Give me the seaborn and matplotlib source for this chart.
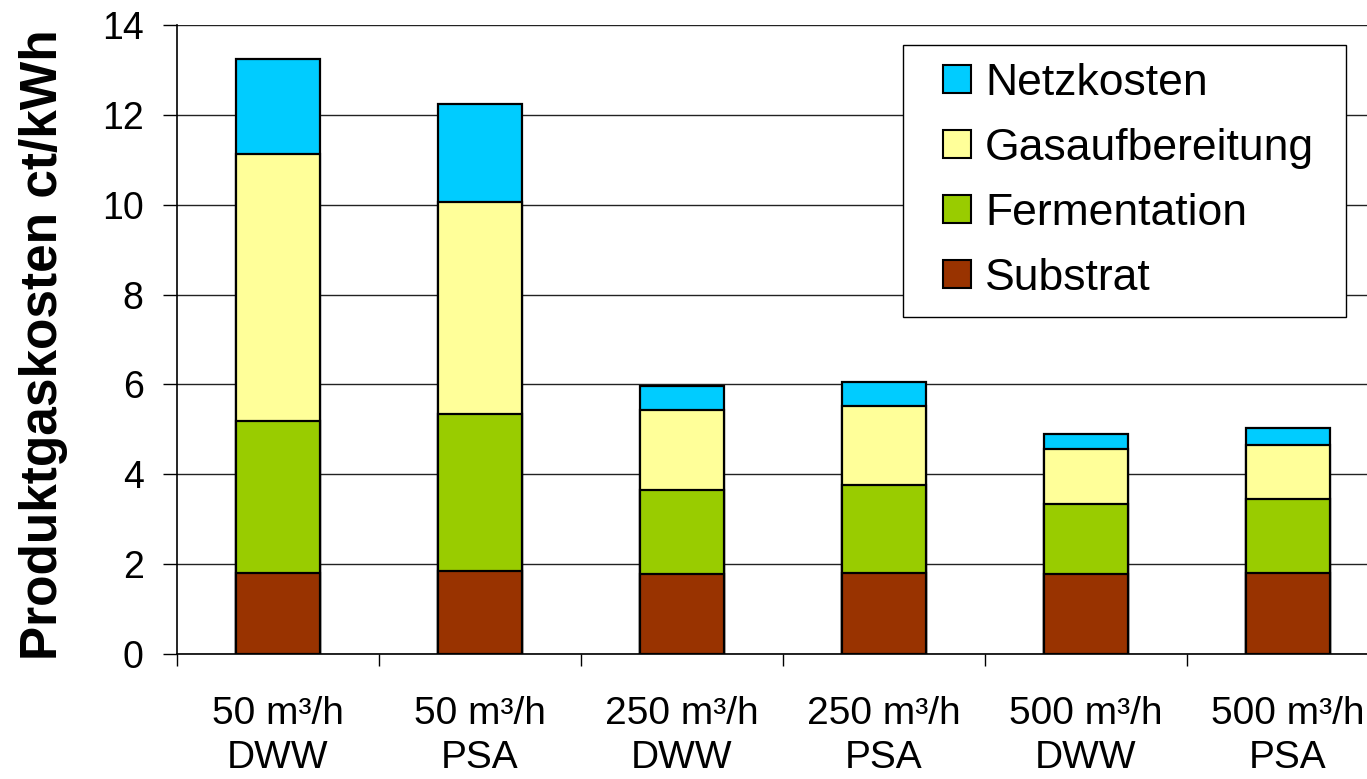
import matplotlib
matplotlib.use("Agg")
import matplotlib.pyplot as plt
from matplotlib.lines import Line2D
import numpy as np
import pandas as pd
import seaborn as sns

# Production gas cost breakdown per plant size and upgrading process (ct/kWh)
categories = ["50 m³/h\nDWW", "50 m³/h\nPSA", "250 m³/h\nDWW",
              "250 m³/h\nPSA", "500 m³/h\nDWW", "500 m³/h\nPSA"]
substrat = [1.81, 1.85, 1.77, 1.80, 1.77, 1.80]
fermentation = [3.38, 3.48, 1.89, 1.95, 1.57, 1.64]
gasaufbereitung = [5.93, 4.74, 1.76, 1.76, 1.22, 1.21]
netzkosten = [2.12, 2.18, 0.55, 0.54, 0.33, 0.37]

series_names = ["Substrat", "Fermentation", "Gasaufbereitung", "Netzkosten"]
series_colors = ["#993300", "#99CC00", "#FFFF99", "#00CCFF"]

df = pd.DataFrame({
    "Kategorie": categories,
    "Substrat": substrat,
    "Fermentation": fermentation,
    "Gasaufbereitung": gasaufbereitung,
    "Netzkosten": netzkosten,
})

sns.set_theme(style="white")
plt.rcParams["font.family"] = ["Liberation Sans", "DejaVu Sans"]
plt.rcParams["text.color"] = "black"
plt.rcParams["axes.labelcolor"] = "black"
plt.rcParams["xtick.color"] = "black"
plt.rcParams["ytick.color"] = "black"

fig = plt.figure(figsize=(13.67, 7.79), dpi=100)
ax = fig.add_axes([0.1295, 0.1605, 0.8866, 0.8075])

# Stacked bars: draw cumulative totals from the top layer down
cum = df[series_names].cumsum(axis=1).assign(Kategorie=df["Kategorie"])
for name, color in reversed(list(zip(series_names, series_colors))):
    sns.barplot(data=cum, x="Kategorie", y=name,
                color=color, edgecolor="black", linewidth=1.6, width=0.42,
                saturation=1, errorbar=None, ax=ax)

ax.set_xlim(-0.5, 5.5)
ax.set_ylim(0, 14)
ax.set_yticks(np.arange(0, 15, 2))
ax.yaxis.grid(True, color="#222222", linewidth=1.0)
ax.xaxis.grid(False)
ax.set_axisbelow(True)

for side in ["top", "right"]:
    ax.spines[side].set_visible(False)
for side in ["left", "bottom"]:
    ax.spines[side].set_color("black")
    ax.spines[side].set_linewidth(1.2)

ax.set_xlabel("")
ax.set_ylabel("Produktgaskosten ct/kWh", fontsize=37, fontweight="bold")
ax.yaxis.set_label_coords(-0.09, 0.491)

ax.tick_params(axis="y", direction="out", length=10, width=1, pad=14,
               labelsize=27, left=True)
ax.tick_params(axis="x", which="major", length=0, pad=30, labelsize=28)
ax.set_xticks(np.arange(-0.5, 6.0, 1.0), minor=True)
ax.tick_params(axis="x", which="minor", direction="out", length=8.6,
               width=1, bottom=True)
for lbl in ax.get_xticklabels():
    lbl.set_linespacing(1.3)

handles = [Line2D([], [], linestyle="none", marker="s", markersize=20.5,
                  markerfacecolor=c, markeredgecolor="black",
                  markeredgewidth=1.5)
           for c in reversed(series_colors)]
leg = ax.legend(handles, list(reversed(series_names)), loc="upper left",
                bbox_to_anchor=(0.599, 0.5453, 0.3655, 0.4227), mode="expand",
                borderaxespad=0, fontsize=32, frameon=True, fancybox=False,
                shadow=False, borderpad=0.40, labelspacing=0.54,
                handlelength=1.62, handletextpad=-0.17)
leg.get_frame().set_edgecolor("black")
leg.get_frame().set_linewidth(1.0)
leg.get_frame().set_facecolor("white")
leg.get_frame().set_alpha(1)

fig.savefig("out.png", dpi=100)
